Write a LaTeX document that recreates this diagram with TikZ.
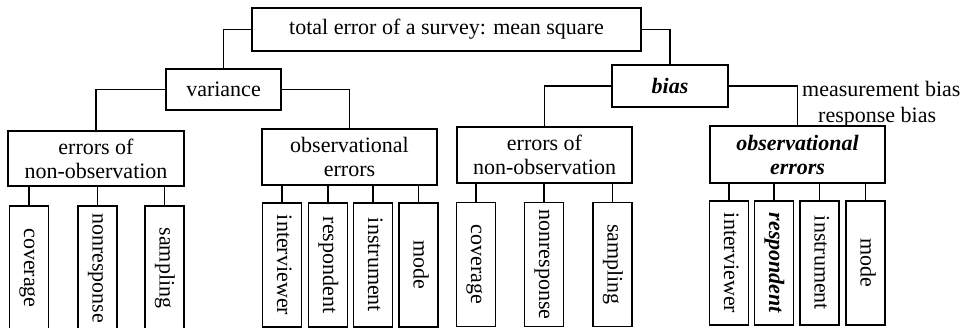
\documentclass[tikz,border=0pt]{standalone}
\usepackage{fontspec}
\setmainfont{Liberation Serif}
\usepackage{graphicx}
\usetikzlibrary{positioning}

\begin{document}
\begin{tikzpicture}[
    x=1pt, y=-1pt,
    font=\fontsize{22}{24}\selectfont,
    box/.style={draw, line width=1.2pt, align=center, inner sep=0pt}, % Style for the boxes
    leaf/.style={draw, line width=1.2pt, inner sep=0pt, minimum width=39pt, minimum height=124pt}, % Style for the upright boxes
    link/.style={line width=1.2pt}, % Style for the connectors
    bi/.style={font=\fontsize{22}{24}\selectfont\bfseries\itshape} % Bold italic text
]

    \useasboundingbox (0,0) rectangle (971,328);

    % Top and second level
    \node[box, minimum width=389pt, minimum height=43pt] (top) at (446.5,29.5) {total error of a survey: mean square};
    \node[box, minimum width=115pt, minimum height=41pt] (var) at (223.5,89.5) {variance};
    \node[box, bi, minimum width=116pt, minimum height=42pt] (bias) at (670,86) {bias};

    \draw[link] (top.west) -| (var.north);
    \draw[link] (top.east) -| (bias.north);

    % Third level
    \node[box, minimum width=176pt, minimum height=55pt] (nonobsL) at (96,158.5) {errors of\\non-observation};
    \node[box, minimum width=175pt, minimum height=56pt] (obsL) at (349.5,157) {observational\\errors};
    \node[box, minimum width=175pt, minimum height=56pt] (nonobsR) at (544.5,155) {errors of\\non-observation};
    \node[box, bi, minimum width=175pt, minimum height=57pt] (obsR) at (797.5,154.5) {observational\\errors};

    \draw[link] (var.west) -| (nonobsL.north);
    \draw[link] (var.east) -| (obsL.north);
    \draw[link] (bias.west) -| (nonobsR.north);
    \draw[link] (bias.east) -| (obsR.north);

    % Notes beside the bias branch
    \node[anchor=base west, inner sep=0pt] (measbias) at (802,97) {measurement bias};
    \node[anchor=base west, inner sep=0pt] (respbias) at (818,123) {response bias};

    % Leaves under variance
    \node[leaf] (covL) at (29,268) {\rotatebox{-90}{\strut coverage}};
    \node[leaf] (nrL) at (97.5,268) {\rotatebox{-90}{\strut nonresponse}};
    \node[leaf] (sampL) at (164.5,268) {\rotatebox{-90}{\strut sampling}};

    \node[leaf] (intL) at (282,265) {\rotatebox{-90}{\strut interviewer}};
    \node[leaf] (respL) at (328,265) {\rotatebox{-90}{\strut respondent}};
    \node[leaf] (instL) at (373,265) {\rotatebox{-90}{\strut instrument}};
    \node[leaf] (modeL) at (418.5,265) {\rotatebox{-90}{\strut mode}};

    % Leaves under bias
    \node[leaf] (covR) at (476,264.5) {\rotatebox{-90}{\strut coverage}};
    \node[leaf] (nrR) at (544,264.5) {\rotatebox{-90}{\strut nonresponse}};
    \node[leaf] (sampR) at (612.5,264.5) {\rotatebox{-90}{\strut sampling}};

    \node[leaf] (intR) at (729,263) {\rotatebox{-90}{\strut interviewer}};
    \node[leaf] (respR) at (774,263) {\rotatebox{-90}{\strut\bfseries\itshape respondent}};
    \node[leaf] (instR) at (819.5,263) {\rotatebox{-90}{\strut instrument}};
    \node[leaf] (modeR) at (865.5,263) {\rotatebox{-90}{\strut mode}};

    % Leaf connectors
    \draw[link] (covL.north |- nonobsL.south) -- (covL.north);
    \draw[link] (nrL.north |- nonobsL.south) -- (nrL.north);
    \draw[link] (sampL.north |- nonobsL.south) -- (sampL.north);

    \draw[link] (intL.north |- obsL.south) -- (intL.north);
    \draw[link] (respL.north |- obsL.south) -- (respL.north);
    \draw[link] (instL.north |- obsL.south) -- (instL.north);
    \draw[link] (modeL.north |- obsL.south) -- (modeL.north);

    \draw[link] (covR.north |- nonobsR.south) -- (covR.north);
    \draw[link] (nrR.north |- nonobsR.south) -- (nrR.north);
    \draw[link] (sampR.north |- nonobsR.south) -- (sampR.north);

    \draw[link] (intR.north |- obsR.south) -- (intR.north);
    \draw[link] (respR.north |- obsR.south) -- (respR.north);
    \draw[link] (instR.north |- obsR.south) -- (instR.north);
    \draw[link] (modeR.north |- obsR.south) -- (modeR.north);

\end{tikzpicture}
\end{document}
